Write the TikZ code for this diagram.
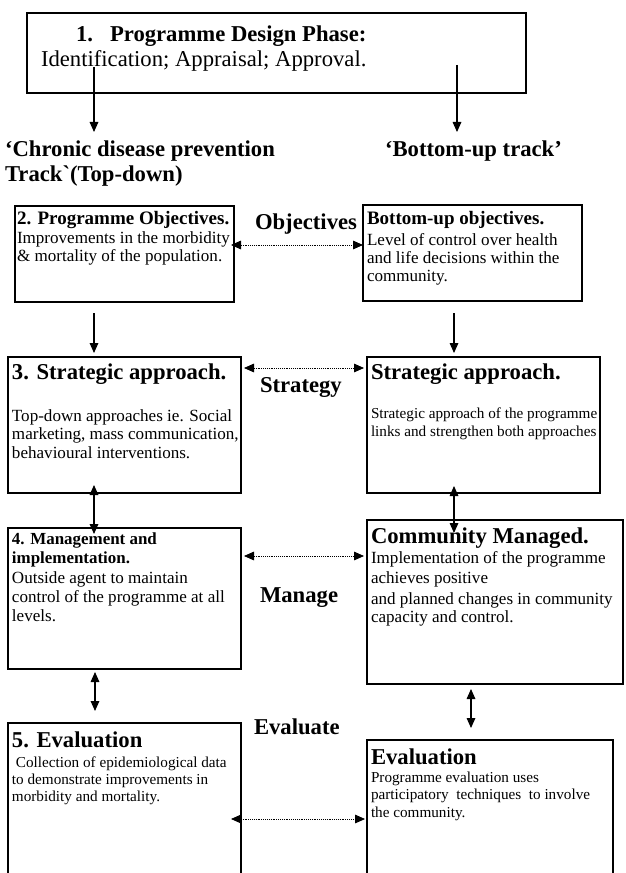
\documentclass[tikz,border=0pt]{standalone}
\usepackage{fontspec}
\setmainfont{Liberation Serif}
\usetikzlibrary{arrows.meta,calc}
\begin{document}
\begin{tikzpicture}[x=0.75pt,y=-0.75pt,
  box/.style={draw=black,line width=1pt,inner sep=0pt,outer sep=0pt,anchor=north west},
  txt/.style={anchor=base west,inner sep=0pt,outer sep=0pt},
  big/.style={txt,font=\fontsize{17}{20}\selectfont\bfseries},
  bigr/.style={txt,font=\fontsize{17}{20}\selectfont},
  mid/.style={txt,font=\fontsize{14.25}{17}\selectfont\bfseries},
  body/.style={txt,font=\fontsize{12.8}{15}\selectfont},
  small/.style={txt,font=\fontsize{11.4}{13}\selectfont},
  sbold/.style={txt,font=\fontsize{12.7}{15}\selectfont\bfseries},
  tip/.tip={Triangle[length=7.5pt,width=6.5pt]},
  arr/.style={line width=0.8pt,-tip},
  darr/.style={line width=0.8pt,tip-tip},
  dotarr/.style={line width=0.6pt,dash pattern=on 0.6pt off 0.8pt,tip-tip}]
\useasboundingbox (0,0) rectangle (625,873);
\clip (0,0) rectangle (625,873);
% boxes
\node[box,minimum width=374.25pt,minimum height=60pt] (b1) at (27,13) {};
\node[box,minimum width=164.25pt,minimum height=72pt] (b2) at (15,206) {};
\node[box,minimum width=164.25pt,minimum height=72pt] (bu) at (363,205) {};
\node[box,minimum width=174.75pt,minimum height=102pt] (b3) at (8,357) {};
\node[box,minimum width=174.75pt,minimum height=102pt] (b3r) at (367,357) {};
\node[box,minimum width=174.75pt,minimum height=105.75pt] (b4) at (8,528) {};
\node[box,minimum width=192pt,minimum height=123pt] (b4r) at (367,520) {};
\node[box,minimum width=174.75pt,minimum height=120pt] (b5) at (8,723) {};
\node[box,minimum width=184.5pt,minimum height=108.75pt] (b5r) at (367,740) {};
% texts box 1
\node[big] (t1a) at (76,42) {1.\hspace{12.75pt}Programme Design Phase:};
\node[bigr] (t1b) at (41,67) {Identification; Appraisal; Approval.};
% track labels
\node[big] (tl1) at (5,157) {‘Chronic disease prevention};
\node[big] (tl2) at (5,182) {Track\textasciigrave(Top-down)};
\node[big] (tr1) at (385,157) {‘Bottom-up track’};
% box 2
\node[mid] (t2a) at (17,225) {2. Programme Objectives.};
\node[body] (t2b) at (17,244) {Improvements in the morbidity};
\node[body] (t2c) at (17,262) {\& mortality of the population.};
\node[big] (lobj) at (255,230) {Objectives};
% bottom-up objectives
\node[mid] (tua) at (367,224.5) {Bottom-up objectives.};
\node[body] (tub) at (367,245.5) {Level of control over health};
\node[body] (tuc) at (367,263.5) {and life decisions within the};
\node[body] (tud) at (367,281.5) {community.};
% box 3
\node[big] (t3a) at (12,379) {3. Strategic approach.};
\node[body] (t3b) at (12,421) {Top-down approaches ie. Social};
\node[body] (t3c) at (12,439.5) {marketing, mass communication,};
\node[body] (t3d) at (12,458) {behavioural interventions.};
\node[big] (lstr) at (260,392) {Strategy};
% box 3r
\node[big] (t3ra) at (371,379) {Strategic approach.};
\node[small] (t3rb) at (371,418) {Strategic approach of the programme};
\node[small] (t3rc) at (371,436) {links and strengthen both approaches};
% box 4
\node[sbold] (t4a) at (12,544) {4. Management and};
\node[sbold] (t4b) at (12,563) {implementation.};
\node[body] (t4c) at (12,583) {Outside agent to maintain};
\node[body] (t4d) at (12,602) {control of the programme at all};
\node[body] (t4e) at (12,621) {levels.};
\node[big] (lman) at (260,602) {Manage};
% box 4r
\node[big] (t4ra) at (371,543) {Community Managed.};
\node[body] (t4rb) at (371,563) {Implementation of the programme};
\node[body] (t4rc) at (371,583) {achieves positive};
\node[body] (t4rd) at (371,604) {and planned changes in community};
\node[body] (t4re) at (371,622) {capacity and control.};
\node[big] (leva) at (254,734) {Evaluate};
% box 5
\node[big] (t5a) at (12,747) {5. Evaluation};
\node[small] (t5b) at (16,767) {Collection of epidemiological data};
\node[small] (t5c) at (12,784) {to demonstrate improvements in};
\node[small] (t5d) at (12,801) {morbidity and mortality.};
% box 5r
\node[big] (t5ra) at (371,764) {Evaluation};
\node[small] (t5rb) at (371,782) {Programme evaluation uses};
\node[small] (t5rc) at (371,799) {participatory\ \ techniques\ \ to involve};
\node[small] (t5rd) at (371,817) {the community.};
% helper coordinates
\coordinate (c1a) at (94,67);
\coordinate (c1b) at (94,132);
\coordinate (c2a) at (457,65);
\coordinate (c2b) at (457,132);
\coordinate (colL) at (94,0);
\coordinate (colR) at (454,0);
\coordinate (colL2) at (95,0);
\coordinate (colR2) at (471,0);
\coordinate (rowO) at (0,245);
\coordinate (rowS) at (0,368);
\coordinate (rowM) at (0,556);
\coordinate (rowE) at (0,819);
% arrows
\draw[arr] (c1a) -- (c1b);
\draw[arr] (c2a) -- (c2b);
\draw[arr,shorten <=8.25pt,shorten >=3pt] (b2.south -| colL) -- (b3.north -| colL);
\draw[arr,shorten <=9pt,shorten >=3pt] (bu.south -| colR) -- (b3r.north -| colR);
\draw[darr,shorten <=-6pt,shorten >=-4.5pt] (b3.south -| colL) -- (b4.north -| colL);
\draw[darr,shorten <=-5.25pt,shorten >=-9.75pt] (b3r.south -| colR) -- (b4r.north -| colR);
\draw[darr,shorten <=2.25pt,shorten >=9pt] (b4.south -| colL2) -- (b5.north -| colL2);
\draw[darr,shorten <=3.75pt,shorten >=9pt] (b4r.south -| colR2) -- (b5r.north -| colR2);
\draw[dotarr,shorten <=-2.25pt] (b2.east |- rowO) -- (bu.west |- rowO);
\draw[dotarr,shorten <=2.25pt,shorten >=2.25pt] (b3.east |- rowS) -- (b3r.west |- rowS);
\draw[dotarr,shorten <=2.25pt,shorten >=2.25pt] (b4.east |- rowM) -- (b4r.west |- rowM);
\draw[dotarr,shorten <=-7.5pt,shorten >=1.5pt] (b5.east |- rowE) -- (b5r.west |- rowE);
\end{tikzpicture}
\end{document}
